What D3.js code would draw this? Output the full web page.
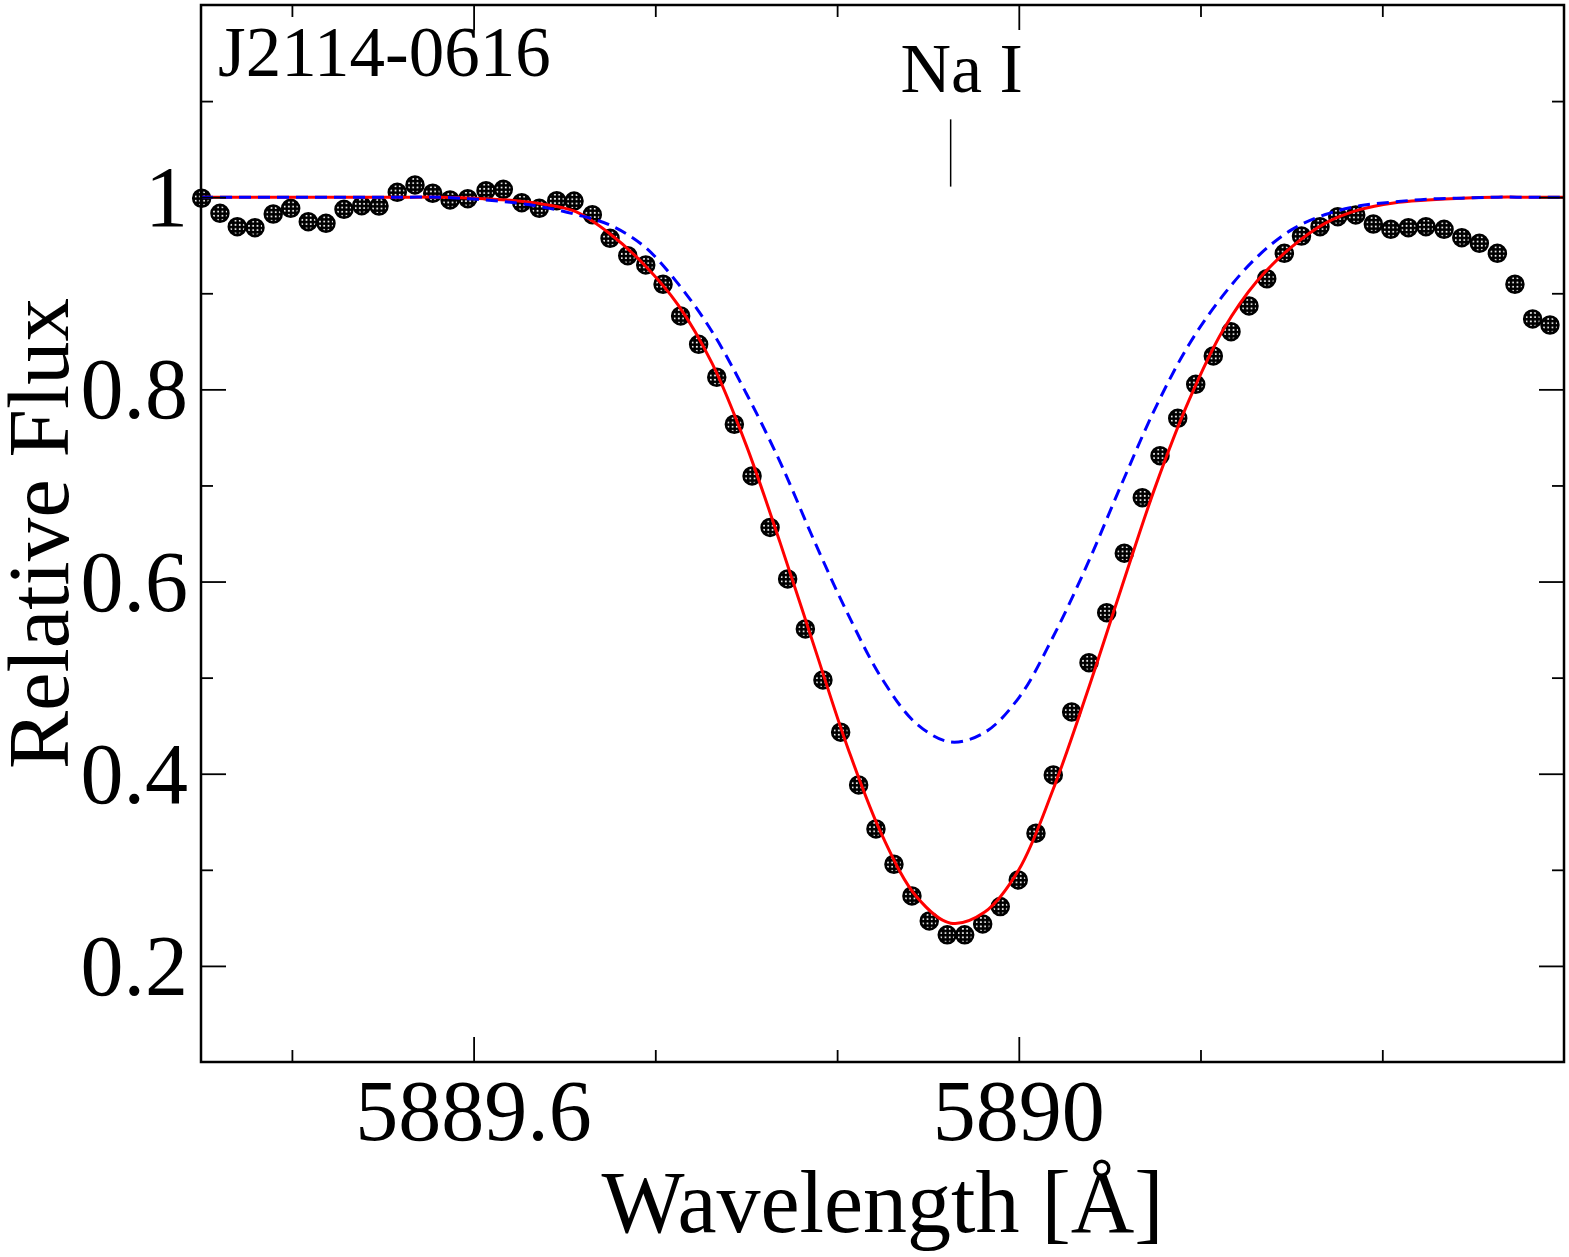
<!DOCTYPE html>
<html lang="en">
<head>
    <meta charset="UTF-8">
    <title>J2114-0616 Na I</title>
    <script src='https://d3js.org/d3.v7.min.js'></script>
    <style>
        body { margin: 0; background: white; }
        text { font-family: "Liberation Serif", "Times New Roman", serif; fill: black; }
    </style>
</head>
<body>
    <svg id="chart" width="1569" height="1257"></svg>
    <script>
        // OBSERVED SPECTRUM (wavelength in A, relative flux)
        const obsWave = [
            5889.4005, 5889.4139, 5889.4266, 5889.4396, 5889.4530, 5889.4658, 5889.4787, 5889.4917, 5889.5049, 5889.5179,
            5889.5306, 5889.5440, 5889.5570, 5889.5700, 5889.5827, 5889.5957, 5889.6091, 5889.6218, 5889.6353, 5889.6482,
            5889.6610, 5889.6737, 5889.6871, 5889.7001, 5889.7131, 5889.7263, 5889.7390, 5889.7519, 5889.7651, 5889.7784,
            5889.7913, 5889.8043, 5889.8175, 5889.8304, 5889.8434, 5889.8563, 5889.8693, 5889.8825, 5889.8952, 5889.9084,
            5889.9216, 5889.9343, 5889.9475, 5889.9603, 5889.9735, 5889.9864, 5889.9996, 5890.0126, 5890.0253, 5890.0388,
            5890.0515, 5890.0645, 5890.0774, 5890.0906, 5890.1036, 5890.1166, 5890.1298, 5890.1427, 5890.1557, 5890.1689,
            5890.1819, 5890.1948, 5890.2074, 5890.2210, 5890.2340, 5890.2472, 5890.2601, 5890.2729, 5890.2858, 5890.2987,
            5890.3120, 5890.3250, 5890.3379, 5890.3511, 5890.3640, 5890.3770, 5890.3897
        ];
        const obsFlux = [
            0.9989, 0.9832, 0.9693, 0.9683, 0.9825, 0.9884, 0.9745, 0.9728, 0.9874, 0.9912,
            0.9908, 1.0051, 1.0127, 1.0041, 0.9971, 0.9984, 1.0068, 1.0082, 0.9943, 0.9884,
            0.9964, 0.9960, 0.9818, 0.9572, 0.9391, 0.9295, 0.9094, 0.8764, 0.8469, 0.8126,
            0.7637, 0.7099, 0.6563, 0.6027, 0.5507, 0.4976, 0.4432, 0.3883, 0.3426, 0.3058,
            0.2728, 0.2468, 0.2323, 0.2323, 0.2437, 0.2617, 0.2895, 0.3381, 0.3988, 0.4643,
            0.5156, 0.5676, 0.6295, 0.6873, 0.7310, 0.7699, 0.8053, 0.8348, 0.8600, 0.8868,
            0.9152, 0.9416, 0.9596, 0.9693, 0.9797, 0.9815, 0.9721, 0.9666, 0.9683, 0.9693,
            0.9666, 0.9579, 0.9520, 0.9416, 0.9094, 0.8733, 0.8670
        ];

        // MODEL SPECTRA
        const modelWave = [
            5889.400, 5889.425, 5889.450, 5889.475, 5889.500, 5889.525, 5889.550, 5889.575, 5889.600, 5889.625,
            5889.650, 5889.675, 5889.700, 5889.725, 5889.750, 5889.775, 5889.800, 5889.825, 5889.850, 5889.875,
            5889.900, 5889.925, 5889.950, 5889.975, 5890.000, 5890.025, 5890.050, 5890.075, 5890.100, 5890.125,
            5890.150, 5890.175, 5890.200, 5890.225, 5890.250, 5890.275, 5890.300, 5890.325, 5890.350, 5890.375,
            5890.400
        ];
        const redFlux = [
            1.000, 1.000, 1.000, 1.000, 1.000, 1.000, 1.000, 1.000, 0.999, 0.997,
            0.993, 0.985, 0.962, 0.930, 0.888, 0.827, 0.742, 0.640, 0.532, 0.425,
            0.335, 0.272, 0.2445, 0.256, 0.300, 0.383, 0.484, 0.592, 0.698, 0.789,
            0.862, 0.913, 0.948, 0.973, 0.987, 0.994, 0.997, 0.999, 1.000, 1.000,
            1.000
        ];
        const blueFlux = [
            1.000, 1.000, 1.000, 1.000, 1.000, 1.000, 1.000, 1.000, 0.998, 0.995,
            0.990, 0.982, 0.971, 0.949, 0.910, 0.860, 0.796, 0.724, 0.642, 0.565,
            0.498, 0.452, 0.433, 0.443, 0.479, 0.542, 0.617, 0.700, 0.780, 0.847,
            0.898, 0.938, 0.966, 0.982, 0.991, 0.995, 0.998, 0.999, 1.000, 1.000,
            1.000
        ];

        // TICKS
        const xMajor = [5889.6, 5890.0];
        const xMajorLabels = ["5889.6", "5890"];
        const xMinor = [5889.4667, 5889.7333, 5889.8667, 5890.1333, 5890.2667];
        const yMajor = [0.2, 0.4, 0.6, 0.8, 1.0];
        const yMajorLabels = ["0.2", "0.4", "0.6", "0.8", "1"];
        const yMinor = [0.3, 0.5, 0.7, 0.9, 1.1];

        // LINE MARKER
        const lineName = "Na I";
        const lineWave = 5889.95;
        const starName = "J2114-0616";

        var chart = d3.select("#chart");
        // plot box in pixels (note: "top" is reserved by window, so use p-names)
        var pLeft = 201, pRight = 1564, pTop = 5, pBottom = 1062;

        var x = d3.scaleLinear().domain([5889.4, 5890.4]).range([pLeft, pRight]);
        var y = d3.scaleLinear().domain([0.1, 1.2]).range([pBottom, pTop]);

        // MARKER FILL PATTERN (black dot with white grid)
        var defs = chart.append("defs");
        var pat = defs.append("pattern")
            .attr("id", "dots")
            .attr("patternUnits", "objectBoundingBox")
            .attr("width", 0.25).attr("height", 0.25);
        pat.append("rect").attr("width", 5).attr("height", 5).attr("fill", "black");
        pat.append("rect").attr("x", 1.6).attr("y", 1.6).attr("width", 1.7).attr("height", 1.7).attr("fill", "white");

        defs.append("clipPath").attr("id", "plotclip")
            .append("rect").attr("x", pLeft).attr("y", pTop)
            .attr("width", pRight - pLeft).attr("height", pBottom - pTop);

        // OBSERVED POINTS
        var obs = obsWave.map(function (w, i) { return [w, obsFlux[i]]; });
        chart.append("g").selectAll("circle")
            .data(obs)
            .enter().append("circle")
            .attr("cx", function (d) { return x(d[0]); })
            .attr("cy", function (d) { return y(d[1]); })
            .attr("r", 8.5)
            .attr("fill", "url(#dots)")
            .attr("stroke", "black")
            .attr("stroke-width", 2.5);

        // MODEL CURVES
        var line = d3.line()
            .x(function (d) { return x(d[0]); })
            .y(function (d) { return y(d[1]); })
            .curve(d3.curveCatmullRom);

        chart.append("path")
            .datum(modelWave.map(function (w, i) { return [w, redFlux[i]]; }))
            .attr("d", line)
            .attr("clip-path", "url(#plotclip)")
            .attr("fill", "none")
            .attr("stroke", "#ff0000")
            .attr("stroke-width", 3);

        chart.append("path")
            .datum(modelWave.map(function (w, i) { return [w, blueFlux[i]]; }))
            .attr("d", line)
            .attr("clip-path", "url(#plotclip)")
            .attr("fill", "none")
            .attr("stroke", "#0000ff")
            .attr("stroke-width", 3)
            .attr("stroke-dasharray", "12,7");

        // AXES (ticks inward on all four sides)
        function drawTicks(axisFn, values, size, transform) {
            chart.append("g")
                .attr("transform", transform)
                .call(axisFn.tickValues(values).tickSize(size).tickFormat(""))
                .call(function (g) { g.select(".domain").remove(); })
                .selectAll("line").attr("stroke", "black").attr("stroke-width", 1.8);
        }
        drawTicks(d3.axisBottom(x), xMajor, -25, "translate(0," + pBottom + ")");
        drawTicks(d3.axisBottom(x), xMinor, -12, "translate(0," + pBottom + ")");
        drawTicks(d3.axisTop(x), xMajor, -25, "translate(0," + pTop + ")");
        drawTicks(d3.axisTop(x), xMinor, -12, "translate(0," + pTop + ")");
        drawTicks(d3.axisLeft(y), yMajor, -25, "translate(" + pLeft + ",0)");
        drawTicks(d3.axisLeft(y), yMinor, -12, "translate(" + pLeft + ",0)");
        drawTicks(d3.axisRight(y), yMajor, -25, "translate(" + pRight + ",0)");
        drawTicks(d3.axisRight(y), yMinor, -12, "translate(" + pRight + ",0)");

        // FRAME
        chart.append("rect")
            .attr("x", pLeft).attr("y", pTop)
            .attr("width", pRight - pLeft).attr("height", pBottom - pTop)
            .attr("fill", "none")
            .attr("stroke", "black")
            .attr("stroke-width", 2.5);

        // TICK LABELS
        chart.append("g").selectAll("text")
            .data(xMajor)
            .enter().append("text")
            .attr("x", function (d) { return x(d); })
            .attr("y", pBottom + 78)
            .attr("text-anchor", "middle")
            .style("font-size", "86px")
            .text(function (d, i) { return xMajorLabels[i]; });

        chart.append("g").selectAll("text")
            .data(yMajor)
            .enter().append("text")
            .attr("x", pLeft - 13)
            .attr("y", function (d) { return y(d) + 29; })
            .attr("text-anchor", "end")
            .style("font-size", "86px")
            .text(function (d, i) { return yMajorLabels[i]; });

        // AXIS TITLES
        chart.append("text")
            .attr("x", (pLeft + pRight) / 2)
            .attr("y", 1232)
            .attr("text-anchor", "middle")
            .style("font-size", "88px")
            .text("Wavelength [Å]");

        chart.append("text")
            .attr("transform", "translate(68," + (pTop + pBottom) / 2 + ") rotate(-90)")
            .attr("text-anchor", "middle")
            .style("font-size", "87px")
            .text("Relative Flux");

        // STAR NAME
        chart.append("text")
            .attr("x", pLeft + 17)
            .attr("y", 76)
            .style("font-size", "71px")
            .text(starName);

        // LINE IDENTIFICATION
        chart.append("line")
            .attr("x1", x(lineWave)).attr("x2", x(lineWave))
            .attr("y1", y(1.081)).attr("y2", y(1.011))
            .attr("stroke", "black")
            .attr("stroke-width", 1.5);

        chart.append("text")
            .attr("x", x(lineWave) + 11)
            .attr("y", 92)
            .attr("text-anchor", "middle")
            .style("font-size", "70px")
            .text(lineName);
    </script>
</body>
</html>
